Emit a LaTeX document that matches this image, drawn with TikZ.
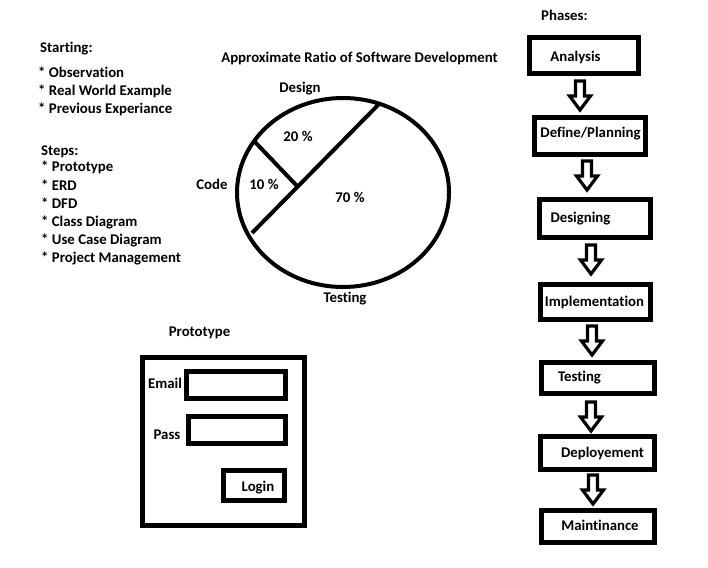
\documentclass[tikz,border=0pt]{standalone}
\usepackage{fontspec}
\setmainfont{Carlito}[Ligatures={NoCommon}]
\usetikzlibrary{shapes.geometric}
\tikzset{
  txt/.style={font=\fontsize{14.8}{17}\selectfont\bfseries, inner sep=0pt, text height=9.4pt, text depth=0pt},
  lt/.style={txt, anchor=west},
  box/.style={draw, line width=5pt, inner sep=0pt},
  field/.style={draw, line width=5pt, inner sep=0pt},
  blockarrow/.style={draw, line width=3.2pt, line join=miter},
  pics/downarrow/.style={code={
    \draw[blockarrow] (-4.5,0) -- (4.5,0) -- (4.5,15) -- (10.5,15) -- (0,29) -- (-10.5,15) -- (-4.5,15) -- cycle;
  }}
}
\begin{document}
\begin{tikzpicture}[x=1pt,y=-1pt]
\useasboundingbox (0,0) rectangle (708,567);

% left lists
\node[lt] (st) at (40,48) {Starting:};
\node[lt] (s1) at (38,73) {* Observation};
\node[lt] (s2) at (38,91) {* Real World Example};
\node[lt] (s3) at (38,109) {* Previous Experiance};
\node[lt] (sp) at (41,151) {Steps:};
\node[lt] (p1) at (41,167) {* Prototype};
\node[lt] (p2) at (41,186) {* ERD};
\node[lt] (p3) at (41,204) {* DFD};
\node[lt] (p4) at (41,222) {* Class Diagram};
\node[lt] (p5) at (41,240) {* Use Case Diagram};
\node[lt] (p6) at (41,258) {* Project Management};

% pie
\node[txt] (title) at (359.5,58) {Approximate Ratio of Software Development};
\node[draw, ellipse, line width=4pt, inner sep=0pt, minimum width=212pt, minimum height=189pt] (pie) at (343,192.5) {};
\coordinate (la) at (380,103);
\coordinate (lb) at (252,233);
\coordinate (sa) at (255,142);
\coordinate (sb) at (298,187);
\draw[line width=4pt] (la) -- (lb);
\draw[line width=4pt] (sa) -- (sb);
\node[txt] (design) at (300,88) {Design};
\node[txt] (d20) at (298,137) {20 \%};
\node[txt] (code) at (212,185) {Code};
\node[txt] (c10) at (264,185) {10 \%};
\node[txt] (t70) at (350,198) {70 \%};
\node[txt] (testing) at (345,298) {Testing};

% prototype
\node[txt] (proto) at (199.5,332) {Prototype};
\node[box, minimum width=162pt, minimum height=168pt] (form) at (223.5,441.5) {};
\node[field, minimum width=99pt, minimum height=27pt] (email) at (236,385) {};
\node[field, minimum width=97pt, minimum height=27pt] (pass) at (237,430) {};
\node[field, minimum width=61pt, minimum height=30pt] (login) at (254,485.5) {};
\node[txt] (emailt) at (165,384) {Email};
\node[txt] (passt) at (167,435) {Pass};
\node[txt] (logint) at (258,487) {Login};

% phases
\node[lt] (phases) at (541,16) {Phases:};
\node[box, minimum width=109pt, minimum height=36pt] (b1) at (584,55.5) {};
\node[box, minimum width=111pt, minimum height=37pt] (b2) at (590,136) {};
\node[box, minimum width=111pt, minimum height=38pt] (b3) at (595,218.5) {};
\node[box, minimum width=110pt, minimum height=35pt] (b4) at (595.5,302) {};
\node[box, minimum width=113pt, minimum height=31pt] (b5) at (598,378) {};
\node[box, minimum width=114pt, minimum height=33pt] (b6) at (597.5,453) {};
\node[box, minimum width=113pt, minimum height=32pt] (b7) at (598,526.5) {};
\node[txt] (t1) at (575.5,57) {Analysis};
\node[txt] (t2) at (590.5,133) {Define/Planning};
\node[txt] (t3) at (580.5,218) {Designing};
\node[txt] (t4) at (594.5,302) {Implementation};
\node[txt] (t5) at (579.5,377) {Testing};
\node[txt] (t6) at (602.5,453) {Deployement};
\node[txt] (t7) at (600,526) {Maintinance};

\pic at (580,81) {downarrow};
\pic at (587,161) {downarrow};
\pic at (591,245) {downarrow};
\pic at (592,326) {downarrow};
\pic at (591,402) {downarrow};
\pic at (593,475) {downarrow};
\end{tikzpicture}
\end{document}
